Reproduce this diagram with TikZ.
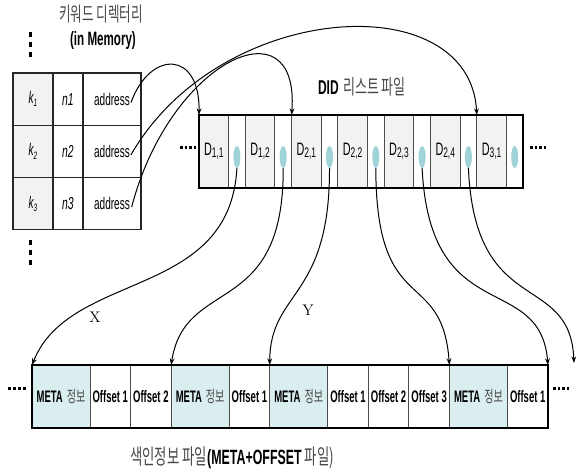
\documentclass[tikz,border=0pt]{standalone}
\usepackage{fontspec}
\newfontfamily\cn{Liberation Sans}[FakeStretch=0.6]
\newfontfamily\cnb{Liberation Sans}[FakeStretch=0.57]
\newfontfamily\kr{Noto Sans CJK KR}[FakeStretch=0.63]
\usetikzlibrary{arrows.meta,shapes.geometric}
\definecolor{cellgray}{HTML}{F2F2F2}
\definecolor{metafill}{HTML}{DAEDEF}
\definecolor{ellfill}{HTML}{9FD3D8}
\definecolor{krgray}{HTML}{4A4A4A}
\newcommand\dlab[2]{D\raisebox{-1.5pt}{\fontsize{10.5}{11}\selectfont #1,#2}}
\newcommand\klab[1]{\itshape k\raisebox{-2.5pt}{\fontsize{8}{9}\selectfont #1}}
\newcommand\metalab{{\cnb\bfseries META}\hspace{3pt}{\kr\color{krgray}\fontsize{12}{13}\selectfont 정보}}
\def\u{0.75pt}
\begin{document}
\begin{tikzpicture}[x=0.75pt,y=-0.75pt,
  every node/.style={inner sep=0pt,outer sep=0pt},
  kc/.style={draw=black!85,line width=0.8pt,anchor=north west,minimum height=52.3*\u,
    font=\fontsize{12.6}{14}\cn},
  dcell/.style={draw=black!70,line width=0.7pt,anchor=north west,fill=cellgray,
    minimum width=29.5*\u,minimum height=73*\u,font=\fontsize{13.5}{14}\cn},
  bcell/.style={draw=black!70,line width=0.7pt,anchor=north west,fill=white,
    minimum width=16.8*\u,minimum height=73*\u},
  ell/.style={ellipse,fill=ellfill,minimum width=7*\u,minimum height=22*\u},
  mcell/.style={draw=black!70,line width=0.7pt,anchor=north west,fill=metafill,
    minimum width=58*\u,minimum height=63*\u,font=\fontsize{12.5}{14}\cn},
  ocell/.style={draw=black!70,line width=0.7pt,anchor=north west,fill=white,
    minimum width=40.57*\u,minimum height=63*\u,font=\fontsize{12.5}{14}\cnb\bfseries},
  conn/.style={line width=0.75pt,-{Stealth[length=5pt,width=3.6pt]}},
  krtxt/.style={text=krgray,font=\fontsize{15}{17}\kr}
]
\useasboundingbox (0,0) rectangle (585,475);

% ---------- keyword directory ----------
\node[krtxt] (title) at (101,14) {키워드 디렉터리};
\node[font=\fontsize{14.5}{16}\cn\bfseries] (mem) at (103,41) {(in Memory)};
\foreach \yy in {32,42,52} \fill (29,\yy) rectangle (32,\yy+5);
\foreach \yy in {240,250,260} \fill (29,\yy) rectangle (32,\yy+5);

\node[kc,fill=cellgray,minimum width=40*\u] (k1) at (13,73) {\klab{1}};
\node[kc,minimum width=30*\u,font=\fontsize{13}{14}\cn\itshape] (n1) at (53,73) {n1};
\node[kc,minimum width=58*\u] (a1) at (83,73) {address};
\node[kc,fill=cellgray,minimum width=40*\u] (k2) at (13,125.3) {\klab{2}};
\node[kc,minimum width=30*\u,font=\fontsize{13}{14}\cn\itshape] (n2) at (53,125.3) {n2};
\node[kc,minimum width=58*\u] (a2) at (83,125.3) {address};
\node[kc,fill=cellgray,minimum width=40*\u] (k3) at (13,177.6) {\klab{3}};
\node[kc,minimum width=30*\u,font=\fontsize{13}{14}\cn\itshape] (n3) at (53,177.6) {n3};
\node[kc,minimum width=58*\u] (a3) at (83,177.6) {address};

% ---------- DID list file ----------
\node (didt) at (362,87) {{\fontsize{15}{16}\cn\bfseries DID} {\fontsize{15.5}{17}\kr\color{krgray}리스트 파일}};
\foreach \a/\b [count=\i] in {1/1,1/2,2/1,2/2,2/3,2/4,3/1} {
  \pgfmathsetmacro\xx{199+46.3*(\i-1)}
  \node[dcell] (d\i) at (\xx,115) {\dlab{\a}{\b}};
  \node[bcell] (b\i) at (\xx+29.5,115) {};
  \node[ell] (e\i) at (\xx+37.9,157) {};
}
\draw[line width=1pt] (d1.north west) rectangle (b7.south east);
\foreach \xx in {180,184.5,189,193.5} \fill (\xx,146) rectangle (\xx+2.5,149);
\foreach \xx in {530,534.5,539,543.5} \fill (\xx,146) rectangle (\xx+2.5,149);

% ---------- index file ----------
\node[mcell] (m1) at (32,365) {\metalab};
\node[ocell] (o1) at (m1.north east) {Offset 1};
\node[ocell] (o2) at (o1.north east) {Offset 2};
\node[mcell] (m2) at (o2.north east) {\metalab};
\node[ocell] (o3) at (m2.north east) {Offset 1};
\node[mcell] (m3) at (o3.north east) {\metalab};
\node[ocell] (o4) at (m3.north east) {Offset 1};
\node[ocell] (o5) at (o4.north east) {Offset 2};
\node[ocell] (o6) at (o5.north east) {Offset 3};
\node[mcell] (m4) at (o6.north east) {\metalab};
\node[ocell] (o7) at (m4.north east) {Offset 1};
\draw[line width=1pt] (m1.north west) rectangle (o7.south east);
\foreach \xx in {8,13,18,23} \fill (\xx,387) rectangle (\xx+2.8,390);
\foreach \xx in {553,557.5,562,566.5} \fill (\xx,387) rectangle (\xx+2.8,390);
\node[text=krgray,font=\fontsize{16}{18}\kr] (cap) at (232,458) {색인정보 파일{\fontsize{15.5}{17}\cn\bfseries\color{black}(META+OFFSET} 파일)};

% ---------- connectors: directory -> DID ----------
\draw[conn] ([xshift=-7.5pt,yshift=-2.5pt]a1.east) .. controls (150,50) and (200,50) .. (d1.north west);
\draw[conn] ([xshift=-7.5pt,yshift=-2.5pt]a2.east) .. controls (220,0) and (470,-15) .. (d7.north west);
\draw[conn] ([xshift=-7pt,yshift=-2.5pt]a3.east) .. controls (170,60) and (300,0) .. (d3.north west);

% ---------- connectors: DID -> index ----------
\coordinate (free) at (574,363);
\draw[conn] (e1.south) .. controls (230,300) and (70,270) .. (m1.north west);
\draw[conn] (e2.south) .. controls (284,320) and (185,275) .. (m2.north west);
\draw[conn] (e3.south) .. controls (330,300) and (270,290) .. (m3.north west);
\draw[conn] (e4.south) .. controls (376,320) and (442,265) .. (m4.north west);
\draw[conn] (e5.south) .. controls (430,330) and (540,270) .. (o7.north east);
\draw[conn] (e6.south) .. controls (475,320) and (570,270) .. (free);

\node[font=\fontsize{11.5}{12}\selectfont] (X) at (95,317) {X};
\node[font=\fontsize{11.5}{12}\selectfont] (Y) at (308,310) {Y};
\end{tikzpicture}
\end{document}
